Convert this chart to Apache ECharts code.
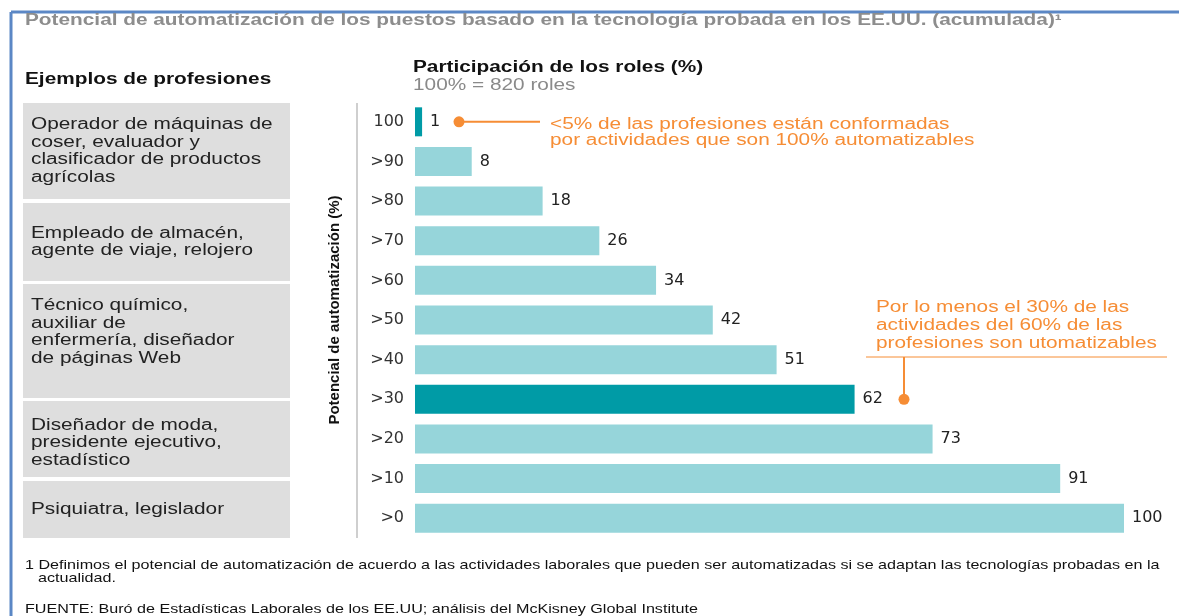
<!DOCTYPE html>
<html>
<head>
<meta charset="utf-8">
<script src="https://cdn.jsdelivr.net/npm/echarts@6/dist/echarts.min.js"></script>
<style>
  html, body { margin: 0; padding: 0; background: #fff; }
  #chart { width: 1179px; height: 616px; }
</style>
</head>
<body>
<div id="chart"></div>
<script>
// datos
var categories = ['100', '>90', '>80', '>70', '>60', '>50', '>40', '>30', '>20', '>10', '>0'];
var shares = [1, 8, 18, 26, 34, 42, 51, 62, 73, 91, 100];
var highlighted = ['100', '>30'];

var professions = [
  'Operador de máquinas de\ncoser, evaluador y\nclasificador de productos\nagrícolas',
  'Empleado de almacén,\nagente de viaje, relojero',
  'Técnico químico,\nauxiliar de\nenfermería, diseñador\nde páginas Web',
  'Diseñador de moda,\npresidente ejecutivo,\nestadístico',
  'Psiquiatra, legislador'
];

var FONT = '"Liberation Sans", Arial, sans-serif';
var NUMFONT = '"DejaVu Sans", sans-serif';
var ORANGE = '#f68d35';
var SX = 1.3; // el original está estirado a lo ancho

var chart = echarts.init(document.getElementById('chart'));

//colores de barras
var barData = shares.map(function (v, i) {
  var dark = highlighted.indexOf(categories[i]) >= 0;
  return { value: v, itemStyle: { color: dark ? '#009ba6' : '#96d5da' } };
});

var option = {
  backgroundColor: '#fff',
  animation: false,
  grid: { left: 415, top: 102, width: 709, height: 436 },
  xAxis: { type: 'value', min: 0, max: 100, show: false },
  yAxis: {
    type: 'category',
    inverse: true,
    data: categories,
    axisLine: { show: false },
    axisTick: { show: false },
    axisLabel: { margin: 11, fontSize: 16, color: '#333', fontFamily: NUMFONT }
  },
  series: [{
    type: 'bar',
    data: barData,
    barWidth: 29,
    label: {
      show: true,
      position: 'right',
      distance: 8,
      fontSize: 16,
      color: '#222',
      fontFamily: NUMFONT
    }
  }]
};
chart.setOption(option);

//textos auxiliares
function txt(x, y, text, size, color, bold, sx, extra) {
  var el = {
    type: 'text', x: x, y: y, scaleX: sx,
    style: {
      text: text,
      font: (bold ? 'bold ' : '') + size + 'px ' + FONT,
      fill: color,
      verticalAlign: 'middle'
    }
  };
  if (extra) {
    for (var k in extra) el.style[k] = extra[k];
  }
  return el;
}

var yTop = chart.convertToPixel({ yAxisIndex: 0 }, categories[0]);
var y30 = chart.convertToPixel({ yAxisIndex: 0 }, '>30');

var boxes = [[103, 199, 151], [203, 281, 242], [284, 398, 332], [401, 477, 443], [481, 538, 510]];
var graphics = [
  // marco
  { type: 'line', shape: { x1: 11, y1: 12, x2: 1179, y2: 12 }, style: { stroke: '#5b87c5', lineWidth: 3 } },
  { type: 'line', shape: { x1: 11, y1: 12, x2: 11, y2: 616 }, style: { stroke: '#5b87c5', lineWidth: 3 } },
  // línea del eje
  { type: 'line', shape: { x1: 357, y1: 103, x2: 357, y2: 538 }, style: { stroke: '#cfcfcf', lineWidth: 2 } },
  txt(25, 21, 'Potencial de automatización de los puestos basado en la tecnología probada en los EE.UU. (acumulada)¹', 16, '#8d8d8d', true, SX),
  txt(25, 80, 'Ejemplos de profesiones', 16, '#111', true, SX),
  txt(413, 68, 'Participación de los roles (%)', 16, '#111', true, SX),
  txt(413, 86, '100% = 820 roles', 16, '#8a8a8a', false, SX),
  {
    type: 'text', x: 335, y: 310, rotation: Math.PI / 2,
    style: {
      text: 'Potencial de automatización (%)',
      font: 'bold 15px ' + FONT, fill: '#111',
      align: 'center', verticalAlign: 'middle'
    }
  },
  // anotación 1
  { type: 'line', shape: { x1: 459, y1: yTop, x2: 540, y2: yTop }, style: { stroke: ORANGE, lineWidth: 2 } },
  { type: 'circle', shape: { cx: 459, cy: yTop, r: 5.5 }, style: { fill: ORANGE } },
  txt(550, yTop + 11, '<5% de las profesiones están conformadas\npor actividades que son 100% automatizables', 16, ORANGE, false, SX, { lineHeight: 16 }),
  // anotación 2
  txt(876, 326, 'Por lo menos el 30% de las\nactividades del 60% de las\nprofesiones son utomatizables', 16, ORANGE, false, SX, { lineHeight: 18 }),
  { type: 'line', shape: { x1: 866, y1: 357, x2: 1167, y2: 357 }, style: { stroke: ORANGE, lineWidth: 1 } },
  { type: 'line', shape: { x1: 904, y1: 357, x2: 904, y2: y30 }, style: { stroke: ORANGE, lineWidth: 2 } },
  { type: 'circle', shape: { cx: 904, cy: y30, r: 5.5 }, style: { fill: ORANGE } },
  // notas
  txt(25, 565, '1 Definimos el potencial de automatización de acuerdo a las actividades laborales que pueden ser automatizadas si se adaptan las tecnologías probadas en la', 13, '#111', false, 1.24),
  txt(38, 578, 'actualidad.', 13, '#111', false, 1.24),
  txt(25, 609, 'FUENTE: Buró de Estadísticas Laborales de los EE.UU; análisis del McKisney Global Institute', 13, '#111', false, 1.24)
];

boxes.forEach(function (b, i) {
  graphics.push({ type: 'rect', shape: { x: 23, y: b[0], width: 267, height: b[1] - b[0] }, style: { fill: '#dedede' } });
  graphics.push(txt(31, b[2], professions[i], 16, '#222', false, SX, { lineHeight: 17.5 }));
});

chart.setOption({ graphic: { elements: graphics } });
</script>
</body>
</html>
